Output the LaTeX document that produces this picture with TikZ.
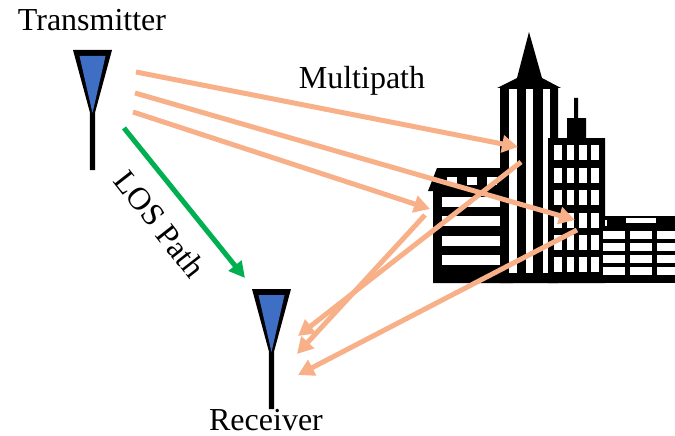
\documentclass[tikz,border=0pt]{standalone}
\usepackage{fontspec}
\setmainfont{Liberation Serif}
\usetikzlibrary{arrows.meta}
\definecolor{peach}{HTML}{F8B088}
\definecolor{losgreen}{HTML}{00B050}
\definecolor{antblue}{HTML}{3F6FC4}
\tikzset{
  label text/.style={inner sep=0pt,font=\fontsize{32}{36}\selectfont},
  multi/.style={draw=peach,line width=5pt,-{Triangle[length=16pt,width=17pt]}},
  los/.style={draw=losgreen,line width=5pt,-{Triangle[length=16pt,width=16pt]}},
  bl/.style={fill=black,draw=none},
  wh/.style={fill=white,draw=none}
}
\newcommand{\antenna}[2]{%
  \begin{scope}[shift={(#1,#2)}]
    \fill[black] (-19.5,0) -- (19.5,0) -- (2.7,62) -- (2.7,120) -- (-2.7,120) -- (-2.7,62) -- cycle;
    \fill[antblue] (-13,6) -- (13,6) -- (0,63) -- cycle;
  \end{scope}}
\begin{document}
\begin{tikzpicture}[x=1pt,y=-1pt]
\useasboundingbox (0,0) rectangle (675,436);
% antennas
\antenna{92.5}{50}
\antenna{271.5}{289}
% left building
\fill[bl] (433,283) -- (433,191) -- (428,191) -- (437,168) -- (513,168) -- (515,191) -- (513,283) -- cycle;
\foreach \a in {447,467,487} \fill[wh] (\a,177) rectangle ++(10,8);
\foreach \a in {197,216,236,255} \fill[wh] (442,\a) rectangle (501,\a+10);
% central tower
\fill[bl] (500,283) -- (500,88) -- (497,88) -- (517,78) -- (529,32) -- (542,78) -- (561,88) -- (558,88) -- (558,283) -- cycle;
\foreach \a/\b in {509/517,526/533,543/550} \fill[wh] (\a,89) rectangle (\b,273);
% right tower
\fill[bl] (548,283) -- (548,138) -- (567,138) -- (567,118) -- (574,118) -- (574,98) -- (578,98) -- (578,118) -- (586,118) -- (586,138) -- (605,138) -- (605,283) -- cycle;
\foreach \a/\b in {554/562,567/574,579/587,591/599}
  \foreach \c in {145,168,190,213,235,257}
    \fill[wh] (\a,\c) rectangle (\b,\c+15);
% low building
\fill[bl] (602,216) rectangle (675,283);
\fill[wh] (626,218) rectangle (656,223);
\fill[wh] (605,220) rectangle (607,226);
\foreach \a/\b in {603/625,630/652,657/675}
  \foreach \c in {231,243,255,267}
    \fill[wh] (\a,\c) rectangle (\b,\c+8);
% anchors
\coordinate (m1s) at (136,72);   \coordinate (m1e) at (518,147);
\coordinate (m2s) at (135,93);   \coordinate (m2e) at (575,220);
\coordinate (m3s) at (133,112);  \coordinate (m3e) at (430,209);
\coordinate (r1s) at (521,162);  \coordinate (r1e) at (298,336);
\coordinate (r2s) at (425,215);  \coordinate (r2e) at (297,354);
\coordinate (r3s) at (577,230);  \coordinate (r3e) at (298,375);
\coordinate (ls) at (124,128);   \coordinate (le) at (245,278);
\draw[multi] (m1s) -- (m1e);
\draw[multi] (m2s) -- (m2e);
\draw[multi] (m3s) -- (m3e);
\draw[multi] (r1s) -- (r1e);
\draw[multi] (r2s) -- (r2e);
\draw[multi] (r3s) -- (r3e);
\draw[los] (ls) -- (le);
% labels
\node[label text] (tx) at (92,20) {Transmitter};
\node[label text] (mp) at (362,81) {Multipath};
\node[label text] (rx) at (266,420) {Receiver};
\node[label text,rotate=-52] (lp) at (160,224) {LOS Path};
\end{tikzpicture}
\end{document}
